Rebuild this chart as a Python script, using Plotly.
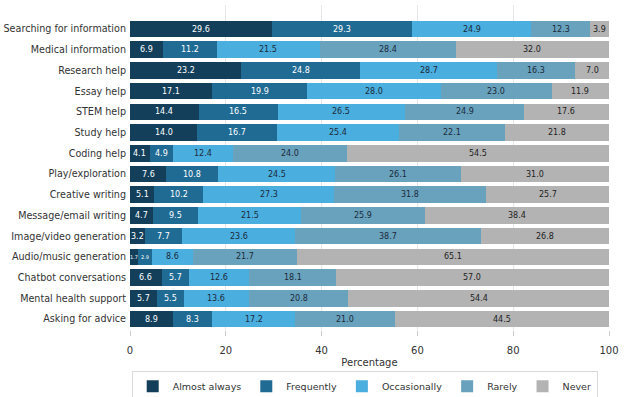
import plotly.graph_objects as go

categories = ["Searching for information", "Medical information", "Research help", "Essay help",
              "STEM help", "Study help", "Coding help", "Play/exploration", "Creative writing",
              "Message/email writing", "Image/video generation", "Audio/music generation",
              "Chatbot conversations", "Mental health support", "Asking for advice"]

almost_always = [29.6, 6.9, 23.2, 17.1, 14.4, 14.0, 4.1, 7.6, 5.1, 4.7, 3.2, 1.7, 6.6, 5.7, 8.9]
frequently    = [29.3, 11.2, 24.8, 19.9, 16.5, 16.7, 4.9, 10.8, 10.2, 9.5, 7.7, 2.9, 5.7, 5.5, 8.3]
occasionally  = [24.9, 21.5, 28.7, 28.0, 26.5, 25.4, 12.4, 24.5, 27.3, 21.5, 23.6, 8.6, 12.6, 13.6, 17.2]
rarely        = [12.3, 28.4, 16.3, 23.0, 24.9, 22.1, 24.0, 26.1, 31.8, 25.9, 38.7, 21.7, 18.1, 20.8, 21.0]
never         = [3.9, 32.0, 7.0, 11.9, 17.6, 21.8, 54.5, 31.0, 25.7, 38.4, 26.8, 65.1, 57.0, 54.4, 44.5]

series_names = ["Almost always", "Frequently", "Occasionally", "Rarely", "Never"]
series_values = [almost_always, frequently, occasionally, rarely, never]
colors = ["#133f5b", "#1f6b94", "#4aaede", "#69a2bd", "#b3b3b3"]
text_colors = ["white", "white", "#1a2a3a", "#1a2a3a", "#222222"]
x_ticks = [0, 20, 40, 60, 80, 100]

fig = go.Figure()
for name, vals, col in zip(series_names, series_values, colors):
    fig.add_trace(go.Bar(
        y=categories, x=vals, name=name, orientation="h",
        marker=dict(color=col, line=dict(width=0)),
        hoverinfo="x+y+name",
    ))

annotations = []
cum = [0.0] * len(categories)
for vals, tc in zip(series_values, text_colors):
    for i, v in enumerate(vals):
        annotations.append(dict(
            x=cum[i] + v / 2, y=categories[i], xref="x", yref="y",
            text=f"{v:.1f}", showarrow=False,
            font=dict(size=8 if v >= 3 else 5, color=tc, family="DejaVu Sans"),
        ))
        cum[i] += v

fig.update_layout(
    barmode="stack", bargap=0.2,
    width=624, height=397,
    margin=dict(l=130, r=15, t=5, b=67, autoexpand=False),
    paper_bgcolor="white", plot_bgcolor="white",
    font=dict(family="DejaVu Sans", color="#333333", size=9.5),
    annotations=annotations,
    showlegend=True,
    legend=dict(orientation="h", x=0.49, xanchor="center", y=0.066, yanchor="top",
                yref="container", xref="paper",
                bordercolor="#d9d9d9", borderwidth=1, font=dict(size=9.5),
                traceorder="normal", itemwidth=30),
    xaxis=dict(range=[0, 100], tickvals=x_ticks, showgrid=True, gridcolor="#e6e6e6",
               gridwidth=1, zeroline=False, showline=False, ticks="outside",
               ticklen=5, tickcolor="#cccccc", tickfont=dict(size=10), automargin=False,
               ticklabelstandoff=6,
               title=dict(text="Percentage", font=dict(size=10), standoff=3)),
    yaxis=dict(categoryorder="array", categoryarray=categories, automargin=False,
               range=[14.53, -1.16], showgrid=False, zeroline=False, showline=False,
               ticks="", tickfont=dict(size=9.6), ticklabelstandoff=3),
)

fig.write_html("out.html", config={"displayModeBar": False},
               post_script="document.body.style.margin='0';")
